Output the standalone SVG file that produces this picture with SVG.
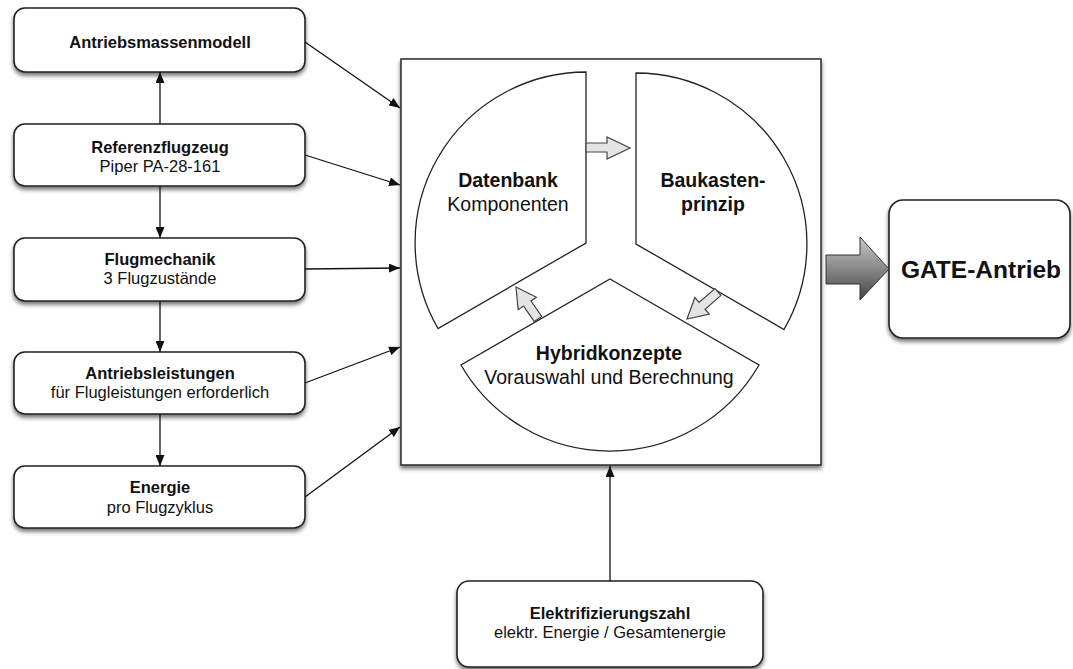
<svg xmlns="http://www.w3.org/2000/svg" width="1073" height="669" viewBox="0 0 1073 669">
<defs>
<filter id="sh" x="-10%" y="-10%" width="120%" height="130%">
<feDropShadow dx="0" dy="3" stdDeviation="2.2" flood-color="#000" flood-opacity="0.55"/>
</filter>
<marker id="ah" markerUnits="userSpaceOnUse" markerWidth="11" markerHeight="9" refX="11" refY="4.5" orient="auto">
<path d="M0,0 L11,4.5 L0,9 z" fill="#111"/>
</marker>
<linearGradient id="bg" x1="0" y1="0" x2="0" y2="1">
<stop offset="0" stop-color="#c8c8c8"/>
<stop offset="0.5" stop-color="#888"/>
<stop offset="1" stop-color="#444"/>
</linearGradient>
<style>
.box{fill:#fff;stroke:#222;stroke-width:1.6;filter:url(#sh)}
.sec{fill:#fff;stroke:#222;stroke-width:1.3}
.ga{fill:#e4e4e4;stroke:#444;stroke-width:1.2}
.t{font-family:"Liberation Sans",Arial,sans-serif;fill:#111;text-anchor:middle}
.b{font-weight:bold}
.conn line{stroke:#111;stroke-width:1.3;marker-end:url(#ah)}
</style>
</defs>
<rect width="1073" height="669" fill="#fff"/>

<g id="main">
<rect x="401" y="59" width="420" height="406" fill="#fff" stroke="#333" stroke-width="1.6" filter="url(#sh)"/>
</g>

<g id="datenbank">
<path class="sec" d="M586,243 L586,72 A171,171 0 0 0 438,328.5 Z"/>
<text class="t b" x="508" y="187" font-size="19.5">Datenbank</text>
<text class="t" x="508" y="211" font-size="19.5">Komponenten</text>
</g>
<g id="baukasten">
<path class="sec" d="M636,244 L636,73 A171,171 0 0 1 784,329.5 Z"/>
<text class="t b" x="713" y="187" font-size="19.5">Baukasten-</text>
<text class="t b" x="713" y="211" font-size="19.5">prinzip</text>
</g>
<g id="hybrid">
<path class="sec" d="M610,279 L759,365 A172,172 0 0 1 461,365 Z"/>
<text class="t b" x="609" y="360" font-size="19.5">Hybridkonzepte</text>
<text class="t" x="609" y="384" font-size="19.5">Vorauswahl und Berechnung</text>
</g>

<g id="cycle-arrows">
<polygon class="ga" points="586,143 607,143 607,137 630,148 607,159 607,152 586,152"/>
<polygon class="ga" points="721,295.4 705.1,309.2 709.3,314.1 687,319 694.9,297.5 699.1,302.4 715,288.6"/>
<polygon class="ga" points="541.7,316.4 531,301 536.4,297.3 516,287 518.2,309.7 523.6,306.1 534.3,321.6"/>
</g>

<g id="n1">
<rect class="box" x="14" y="8" width="291" height="64" rx="11"/>
<text class="t b" x="160" y="48" font-size="16.5">Antriebsmassenmodell</text>
</g>
<g id="n2">
<rect class="box" x="14" y="124" width="291" height="62" rx="11"/>
<text class="t b" x="160" y="153" font-size="16.5">Referenzflugzeug</text>
<text class="t" x="160" y="172" font-size="16.5">Piper PA-28-161</text>
</g>
<g id="n3">
<rect class="box" x="14" y="238" width="291" height="63" rx="11"/>
<text class="t b" x="160" y="265" font-size="16.5">Flugmechanik</text>
<text class="t" x="160" y="284" font-size="16.5">3 Flugzustände</text>
</g>
<g id="n4">
<rect class="box" x="14" y="352" width="291" height="62" rx="11"/>
<text class="t b" x="160" y="379" font-size="16.5">Antriebsleistungen</text>
<text class="t" x="160" y="398" font-size="16.5">für Flugleistungen erforderlich</text>
</g>
<g id="n5">
<rect class="box" x="14" y="466" width="291" height="62" rx="11"/>
<text class="t b" x="160" y="493" font-size="16.5">Energie</text>
<text class="t" x="160" y="513" font-size="16.5">pro Flugzyklus</text>
</g>

<g id="gate">
<rect class="box" x="889" y="200" width="181" height="138" rx="14"/>
<text class="t b" x="981" y="278" font-size="24.5">GATE-Antrieb</text>
</g>

<g id="elektr">
<rect class="box" x="457" y="581" width="306" height="86" rx="12"/>
<text class="t b" x="610" y="619" font-size="16.5">Elektrifizierungszahl</text>
<text class="t" x="610" y="638" font-size="16.5">elektr. Energie / Gesamtenergie</text>
</g>

<g id="connectors" class="conn">
<line x1="160" y1="124" x2="160" y2="72"/>
<line x1="160" y1="186" x2="160" y2="238"/>
<line x1="160" y1="301" x2="160" y2="352"/>
<line x1="160" y1="414" x2="160" y2="466"/>
<line x1="305" y1="42" x2="400" y2="108"/>
<line x1="305" y1="155" x2="400" y2="185"/>
<line x1="305" y1="269" x2="400" y2="268"/>
<line x1="305" y1="383" x2="400" y2="347"/>
<line x1="305" y1="497" x2="400" y2="427"/>
<line x1="610" y1="581" x2="610" y2="466"/>
<polygon points="826,255 860,255 860,237 889,269 860,300 860,284 826,284" fill="url(#bg)" stroke="#333" stroke-width="1"/>
</g>
</svg>
